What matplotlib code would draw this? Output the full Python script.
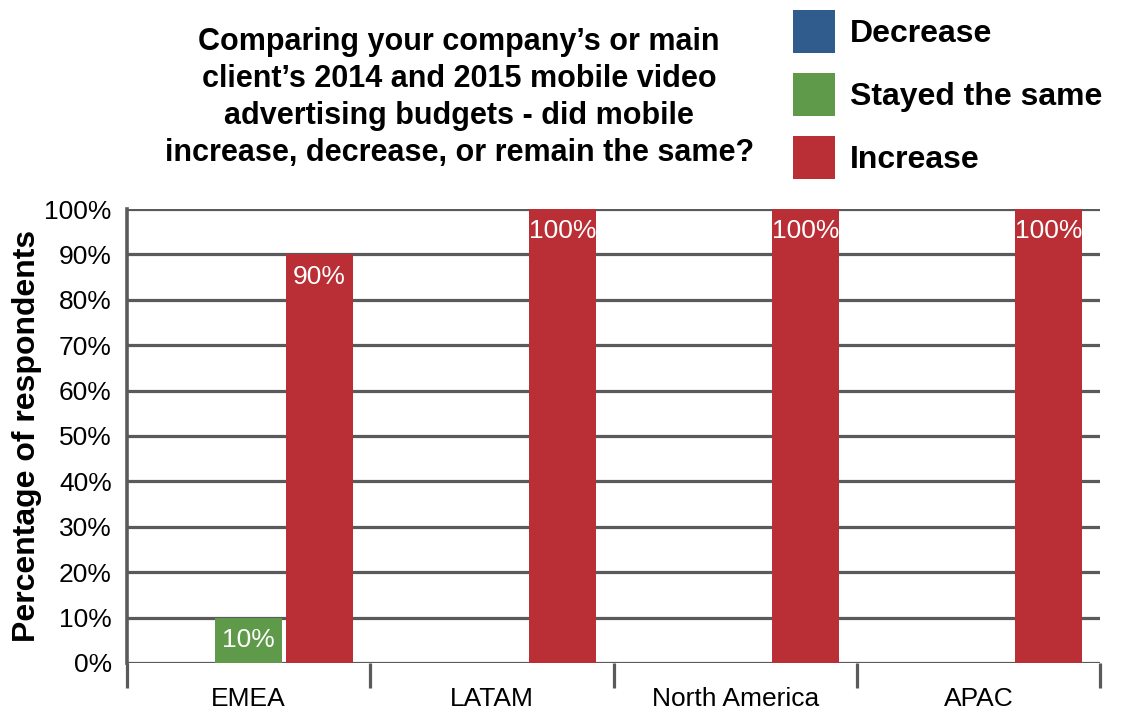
import numpy as np
import matplotlib
matplotlib.use("Agg")
import matplotlib.pyplot as plt
from matplotlib.patches import Patch

plt.rcParams['font.family'] = ['Liberation Sans', 'DejaVu Sans']

regions = ["EMEA", "LATAM", "North America", "APAC"]
series = ["Decrease", "Stayed the same", "Increase"]
decrease = [0, 0, 0, 0]
stayed = [10, 0, 0, 0]
increase = [90, 100, 100, 100]
colors = ["#2F5B8D", "#5F9A4B", "#B92F35"]

fig = plt.figure(figsize=(11.31, 7.09), dpi=100)
ax = fig.add_axes([0.1123, 0.0649, 0.8603, 0.6403])

x = np.arange(len(regions))
width = 0.275
offsets = [-0.29, 0.0, 0.29]
for vals, off, col in zip([decrease, stayed, increase], offsets, colors):
    bars = ax.bar(x + off, vals, width, color=col, zorder=3)
    for b, v in zip(bars, vals):
        if v > 0:
            ax.text(b.get_x() + b.get_width() / 2, v - 2.3, f"{v}%",
                    ha="center", va="top", color="white", fontsize=19,
                    family=["Liberation Sans Narrow", "Liberation Sans"], zorder=4)

ax.set_xlim(-0.5, 3.5)
ax.set_ylim(0, 100)
ax.set_yticks(np.arange(0, 101, 10))
ax.set_yticklabels([f"{t}%" for t in range(0, 101, 10)], fontsize=19)
ax.yaxis.grid(True, color="#5a5a5a", linewidth=2.3, zorder=1)
ax.set_axisbelow(True)
ax.tick_params(axis="y", length=0, pad=11)

ax.set_xticks(x)
ax.set_xticklabels(regions, fontsize=19)
ax.set_xticks(np.arange(-0.5, 4.0, 1.0), minor=True)
ax.tick_params(axis="x", which="major", length=0, pad=17)
ax.tick_params(axis="x", which="minor", length=18, width=2.3, color="#5a5a5a")

for s in ["top", "right", "bottom"]:
    ax.spines[s].set_visible(False)
ax.spines["left"].set_color("#5a5a5a")
ax.spines["left"].set_linewidth(2.6)

ax.set_ylabel("Percentage of respondents", fontsize=23, fontweight="bold", labelpad=2)

fig.text(0.406, 0.862, "Comparing your company\u2019s or main\nclient\u2019s 2014 and 2015 mobile video\n"
         "advertising budgets - did mobile\nincrease, decrease, or remain the same?",
         ha="center", va="center", fontsize=22, fontweight="bold", linespacing=1.3)

handles = [Patch(facecolor=c, edgecolor="none") for c in colors]
fig.legend(handles, series, loc="upper left", bbox_to_anchor=(0.681, 1.017),
           frameon=False, prop={"size": 23, "weight": "bold"},
           handlelength=1.34, handleheight=1.69, handletextpad=0.45,
           labelspacing=0.62, borderpad=0.2)

fig.savefig("out.png", dpi=100)
